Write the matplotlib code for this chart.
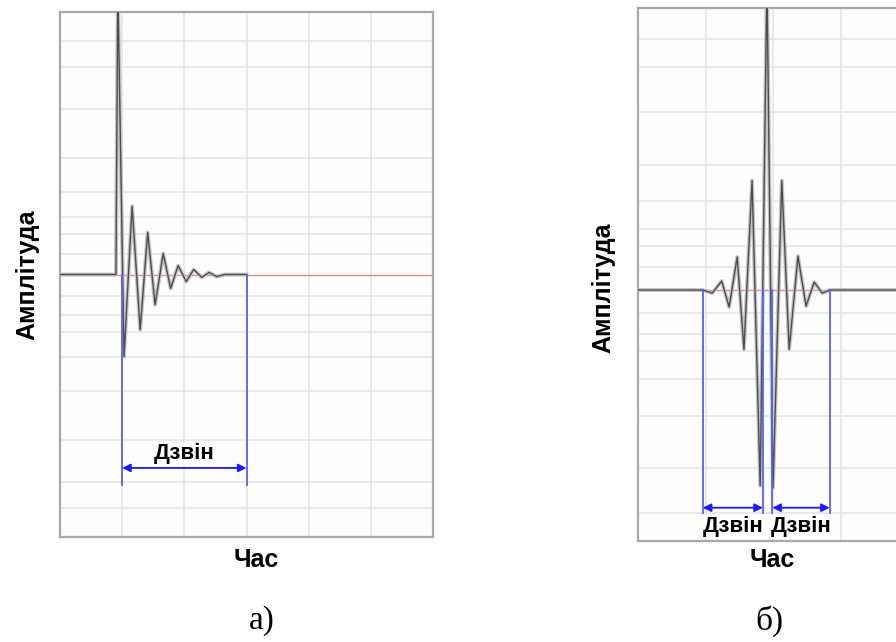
import matplotlib
matplotlib.use("Agg")
import matplotlib.pyplot as plt

## data
##---------------------------

# grid levels (fraction of half-height), the same above and below zero
grid_levels = [0.08, 0.155, 0.218, 0.316, 0.445, 0.631, 0.79, 0.89]

# a) decaying ringing after a single impulse
left_t = [0, 0.90, 0.93, 1.03, 1.16, 1.29, 1.41, 1.53, 1.66, 1.78, 1.90,
          2.03, 2.15, 2.28, 2.40, 2.52, 2.65, 3.0]
left_amp = [0, 0, 1.1, -0.313, 0.26, -0.21, 0.16, -0.115, 0.08, -0.053, 0.034,
            -0.027, 0.019, -0.011, 0.008, -0.008, 0, 0]
left_ring = [(1.0, 3.0)]

# b) symmetric ringing before and after the peak
right_t = [0, 0.96, 1.10, 1.24, 1.35, 1.47, 1.57, 1.69, 1.81, 1.91, 2.00,
           2.13, 2.24, 2.37, 2.49, 2.61, 2.73, 2.84, 6.0]
right_amp = [0, 0, -0.011, 0.032, -0.06, 0.117, -0.21, 0.388, -0.694, 1.1, -0.701,
             0.388, -0.21, 0.12, -0.057, 0.028, -0.011, 0, 0]
right_ring = [(0.96, 1.85), (1.99, 2.84)]

ring_label = "Дзвін"
y_label = "Амплітуда"
x_label = "Час"
panel_names = ["а)", "б)"]

BLUE_LINE = '#5c5cff'
BLUE_ARROW = '#1a1aff'


def draw_panel(ax, t, amp, rings, ylim, line_bottom, arrow_y, label_y):
    ax.set_xlim(0, 6)
    ax.set_ylim(*ylim)
    ax.set_facecolor('#fdfdfd')
    ax.set_xticks([1, 2, 3, 4, 5])
    ax.set_yticks([-g for g in grid_levels] + grid_levels)
    ax.tick_params(length=0, labelleft=False, labelbottom=False)
    ax.grid(True, color='#e3e3e3', linewidth=1.1)
    ax.set_axisbelow(True)
    for sp in ax.spines.values():
        sp.set_color('#a8a8a8')
        sp.set_linewidth(1.6)

    ax.axhline(0, color='#dd8a8a', linewidth=1.0, zorder=2)
    ax.plot(t, amp, color='#c4c4c4', linewidth=2.8, zorder=3)
    ax.plot(t, amp, color='#4d4d4d', linewidth=1.0, zorder=4)

    for x0, x1 in rings:
        for x in (x0, x1):
            ax.plot([x, x], [0, line_bottom], color=BLUE_LINE, linewidth=1.3, zorder=5)
        ax.annotate('', xy=(x1, arrow_y), xytext=(x0, arrow_y),
                    arrowprops=dict(arrowstyle='<|-|>', color=BLUE_ARROW, lw=1.3,
                                    mutation_scale=12, shrinkA=0, shrinkB=0),
                    zorder=6)
        lx = (x0 + x1) / 2
        ax.text(lx, label_y, ring_label, ha='center', va='center', fontsize=16,
                fontweight='bold', family='Liberation Sans', zorder=7,
                bbox=dict(facecolor='white', edgecolor='none', pad=1.0))


fig = plt.figure(figsize=(8.96, 6.42), dpi=100)

ax1 = fig.add_axes([60 / 896, 1 - 537 / 642, 373 / 896, 525 / 642])
draw_panel(ax1, left_t, left_amp, left_ring, (-1, 1), -0.80, -0.737, -0.683)

ax2 = fig.add_axes([638 / 896, 1 - 541 / 642, 405 / 896, 533 / 642])
draw_panel(ax2, right_t, right_amp, right_ring, (-0.89, 1.0), -0.79, -0.772, -0.84)

# axis titles and panel captions
for xc, yc in [(27, 275), (603, 288)]:
    fig.text(xc / 896, 1 - yc / 642, y_label, rotation=90, ha='center', va='center',
             fontsize=18, fontweight='bold', family='Liberation Sans')
for xc in (256, 772):
    fig.text(xc / 896, 1 - 560 / 642, x_label, ha='center', va='center',
             fontsize=18, fontweight='bold', family='Liberation Sans')
for xc, name in zip((262, 769), panel_names):
    fig.text(xc / 896, 1 - 621 / 642, name, ha='center', va='center',
             fontsize=24, family='Liberation Serif')

fig.savefig('out.png', dpi=100)
